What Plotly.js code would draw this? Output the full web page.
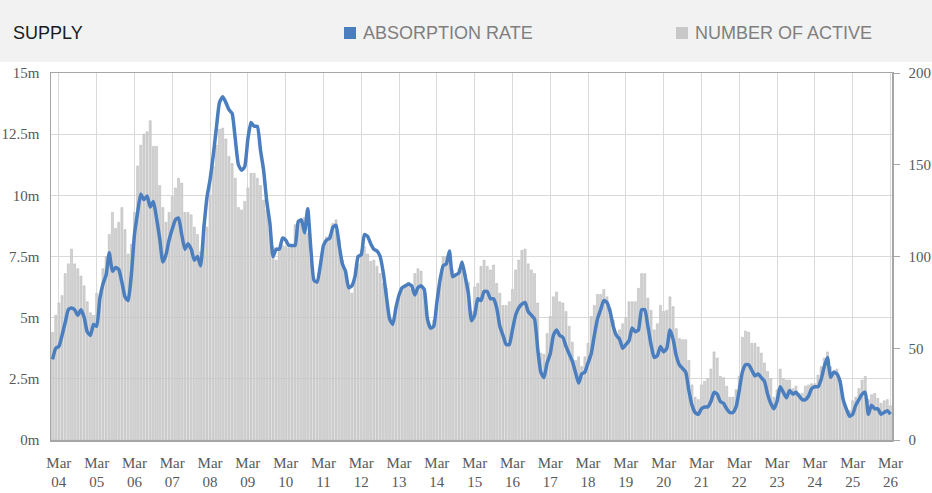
<!DOCTYPE html>
<html>
<head>
<meta charset="utf-8">
<script src="https://cdn.plot.ly/plotly-3.0.1.min.js"></script>
<style>html,body{margin:0;padding:0;background:#fff}#chart{width:932px;height:493px}</style>
</head>
<body>
<div id="chart"></div>
<script>
// Monthly categories Jan 2004 .. Mar 2026
const startYear = 2004;
const monthCount = 267;
const months = [];
for (let k = 0; k < monthCount; k++) {
  const y = startYear + Math.floor(k / 12);
  const m = (k % 12) + 1;
  months.push(y + "-" + (m < 10 ? "0" + m : m));
}

// NUMBER OF ACTIVE (left axis, millions)
const activeCount = [
4.4,5.1,5.6,5.9,6.8,7.2,7.8,7.2,7.0,6.7,6.3,5.65,
5.2,5.1,6.0,5.9,7.0,7.5,8.4,9.3,8.65,8.9,9.5,8.6,
7.6,8.0,9.3,11.2,12.05,12.5,12.6,13.05,12.0,12.0,10.4,9.5,
8.9,9.3,9.95,10.3,10.7,10.5,9.3,9.3,9.2,8.7,8.4,7.7,
8.8,8.7,10.0,11.2,12.05,12.7,12.75,12.3,11.6,11.3,10.7,9.5,
9.4,9.75,10.3,10.9,10.9,10.7,10.4,9.8,9.4,8.6,7.9,7.35,
7.75,7.95,7.9,7.85,7.9,8.8,9.0,8.95,9.1,8.45,7.4,6.5,
6.45,7.0,7.9,8.3,8.4,8.85,9.0,8.2,7.35,6.95,6.25,6.0,
6.6,7.2,7.75,7.9,7.6,7.3,7.35,7.1,6.8,6.4,6.2,5.05,
4.75,5.45,5.85,6.25,6.35,6.45,6.15,6.8,7.0,6.9,6.0,5.0,
4.55,4.9,5.6,6.4,7.5,7.5,7.75,6.95,6.8,7.0,7.15,6.8,
6.45,5.25,6.25,6.4,7.1,7.35,7.1,6.95,7.15,6.4,6.0,5.5,
5.5,5.65,6.15,6.95,7.35,7.75,7.8,7.2,6.95,6.8,5.6,3.55,
3.5,4.35,5.05,5.85,6.05,5.65,5.6,5.25,4.65,4.0,3.25,3.4,
3.0,3.4,3.95,5.05,5.5,5.95,5.95,6.15,5.85,5.4,4.9,4.35,
4.5,4.75,5.0,5.65,5.65,5.65,6.2,6.8,6.8,5.8,5.3,4.5,
4.75,5.5,5.25,5.3,5.85,5.45,4.55,4.15,4.1,4.1,3.25,2.25,
1.75,1.65,2.25,2.4,2.5,2.9,3.6,3.35,2.6,2.55,2.2,1.75,
1.75,2.05,2.6,4.2,4.45,4.4,3.95,3.95,3.8,3.55,3.15,2.8,
2.5,1.75,2.05,2.9,2.5,2.45,2.45,2.1,2.2,1.9,1.9,2.2,
2.25,2.3,2.3,2.65,3.0,3.35,3.6,3.0,2.65,2.9,2.45,1.65,
1.25,1.2,1.6,1.75,2.1,2.45,2.6,1.65,1.85,1.9,1.7,1.5,
1.6,1.65,1.4
];

// ABSORPTION RATE (right axis, 0-200)
const absorptionRate = [
44,50,51,57,64,71,72,71,68,71,67,59,
57,63,62,77,85,90,102,92,94,93,86,78,
76,90,112,124,134,131,133,127,130,121,110,97,
101,109,115,120,121,112,104,107,104,98,100,95,
115,132,142,155,170,184,187,184,180,178,164,150,
147,149,164,173,171,171,158,147,130,118,100,104,
104,110,109,106,106,106,119,120,113,126,104,87,
86,95,106,109,110,116,117,106,96,92,83,84,
89,100,101,112,111,107,104,103,100,91,78,66,
63,72,79,83,84,85,84,79,83,84,82,66,
61,62,75,87,95,96,103,89,90,91,97,89,
80,65,68,77,76,81,81,77,77,72,62,57,
52,52,60,68,72,74,75,70,68,66,50,37,
34,42,47,57,60,57,56,51,47,43,37,31,
36,37,42,47,57,66,71,76,75,70,62,57,
55,50,52,54,61,59,60,71,71,62,52,45,
46,51,48,50,60,55,46,41,39,37,27,19,
15,14,17,18,18,21,26,25,21,20,17,15,
15,18,27,37,41,41,38,35,36,34,32,25,
20,17,21,29,26,23,27,25,26,24,22,22,
24,28,29,29,33,40,45,34,37,36,32,22,
17,13,14,19,22,25,26,14,19,17,17,14,
15,16,14
];

// Tick labels: every March
const tickCats = [];
const tickText = [];
for (let y = 2004; y <= 2026; y++) {
  tickCats.push(y + "-03");
  tickText.push("Mar<br>" + String(y).slice(2));
}

const leftTicks = [0, 2.5, 5, 7.5, 10, 12.5, 15];
const leftTickText = ["0m", "2.5m", "5m", "7.5m", "10m", "12.5m", "15m"];
const rightTicks = [0, 50, 100, 150, 200];

const W = 932, H = 493;
const L = 51, R = 40, T = 73, B = 53;
const pw = W - L - R, ph = H - T - B;
const px = x => (x - L) / pw;
const py = y => 1 + (T - y) / ph;

const traces = [
  {
    type: "bar",
    x: months,
    y: activeCount,
    name: "NUMBER OF ACTIVE",
    marker: { color: "#d2d2d2", line: { color: "#b5b5b5", width: 0.5 } },
    yaxis: "y",
    hoverinfo: "skip"
  },
  {
    type: "scatter",
    mode: "lines",
    x: months,
    y: absorptionRate,
    name: "ABSORPTION RATE",
    line: { color: "#4a7ebf", width: 3.5, shape: "spline", smoothing: 0.5 },
    yaxis: "y2",
    hoverinfo: "skip"
  }
];

const serif = "Liberation Serif, Times New Roman, serif";
const sans = "Liberation Sans, Arial, sans-serif";

const layout = {
  width: W, height: H,
  margin: { l: L, r: R, t: T, b: B, pad: 0 },
  paper_bgcolor: "#ffffff",
  plot_bgcolor: "#ffffff",
  showlegend: false,
  bargap: 0.35,
  xaxis: {
    type: "category",
    categoryorder: "array",
    categoryarray: months,
    range: [-0.5, monthCount - 0.5],
    tickmode: "array",
    tickvals: tickCats,
    ticktext: tickText,
    tickangle: 0,
    showgrid: true,
    gridcolor: "#d9d9d9",
    gridwidth: 1,
    showline: true,
    linecolor: "#a6a6a6",
    linewidth: 1.5,
    mirror: true,
    ticks: "",
    ticklabelstandoff: 8,
    tickfont: { family: serif, size: 15, color: "#595959" },
    zeroline: false
  },
  yaxis: {
    range: [0, 15],
    tickmode: "array",
    tickvals: leftTicks,
    ticktext: leftTickText,
    showgrid: true,
    gridcolor: "#d9d9d9",
    gridwidth: 1,
    showline: true,
    linecolor: "#a6a6a6",
    linewidth: 1.5,
    ticks: "",
    ticklabelstandoff: 7,
    tickfont: { family: serif, size: 15, color: "#595959" },
    zeroline: false
  },
  yaxis2: {
    overlaying: "y",
    side: "right",
    range: [0, 200],
    tickmode: "array",
    tickvals: rightTicks,
    showgrid: false,
    showline: true,
    linecolor: "#a6a6a6",
    linewidth: 1.5,
    ticks: "outside",
    ticklen: 6,
    tickcolor: "#a6a6a6",
    ticklabelstandoff: 6,
    tickfont: { family: serif, size: 15, color: "#595959" },
    zeroline: false
  },
  shapes: [
    { type: "rect", xref: "paper", yref: "paper", x0: -0.2, x1: 1.2, y0: py(62), y1: py(-5),
      fillcolor: "#f2f2f2", line: { width: 0 }, layer: "below" },
    { type: "rect", xref: "paper", yref: "paper", x0: px(344), x1: px(356), y0: py(39), y1: py(27),
      fillcolor: "#4a7ebf", line: { width: 0 } },
    { type: "rect", xref: "paper", yref: "paper", x0: px(676), x1: px(688), y0: py(39), y1: py(27),
      fillcolor: "#c8c8c8", line: { width: 0 } }
  ],
  annotations: [
    { xref: "paper", yref: "paper", x: px(11), y: py(33), xanchor: "left", yanchor: "middle",
      text: "SUPPLY", showarrow: false, font: { family: sans, size: 18, color: "#1a1a1a" } },
    { xref: "paper", yref: "paper", x: px(361), y: py(33), xanchor: "left", yanchor: "middle",
      text: "ABSORPTION RATE", showarrow: false, font: { family: sans, size: 18, color: "#7f7f7f" } },
    { xref: "paper", yref: "paper", x: px(693), y: py(33), xanchor: "left", yanchor: "middle",
      text: "NUMBER OF ACTIVE", showarrow: false, font: { family: sans, size: 18, color: "#7f7f7f" } }
  ]
};

Plotly.newPlot("chart", traces, layout, { staticPlot: true, displayModeBar: false });
</script>
</body>
</html>
